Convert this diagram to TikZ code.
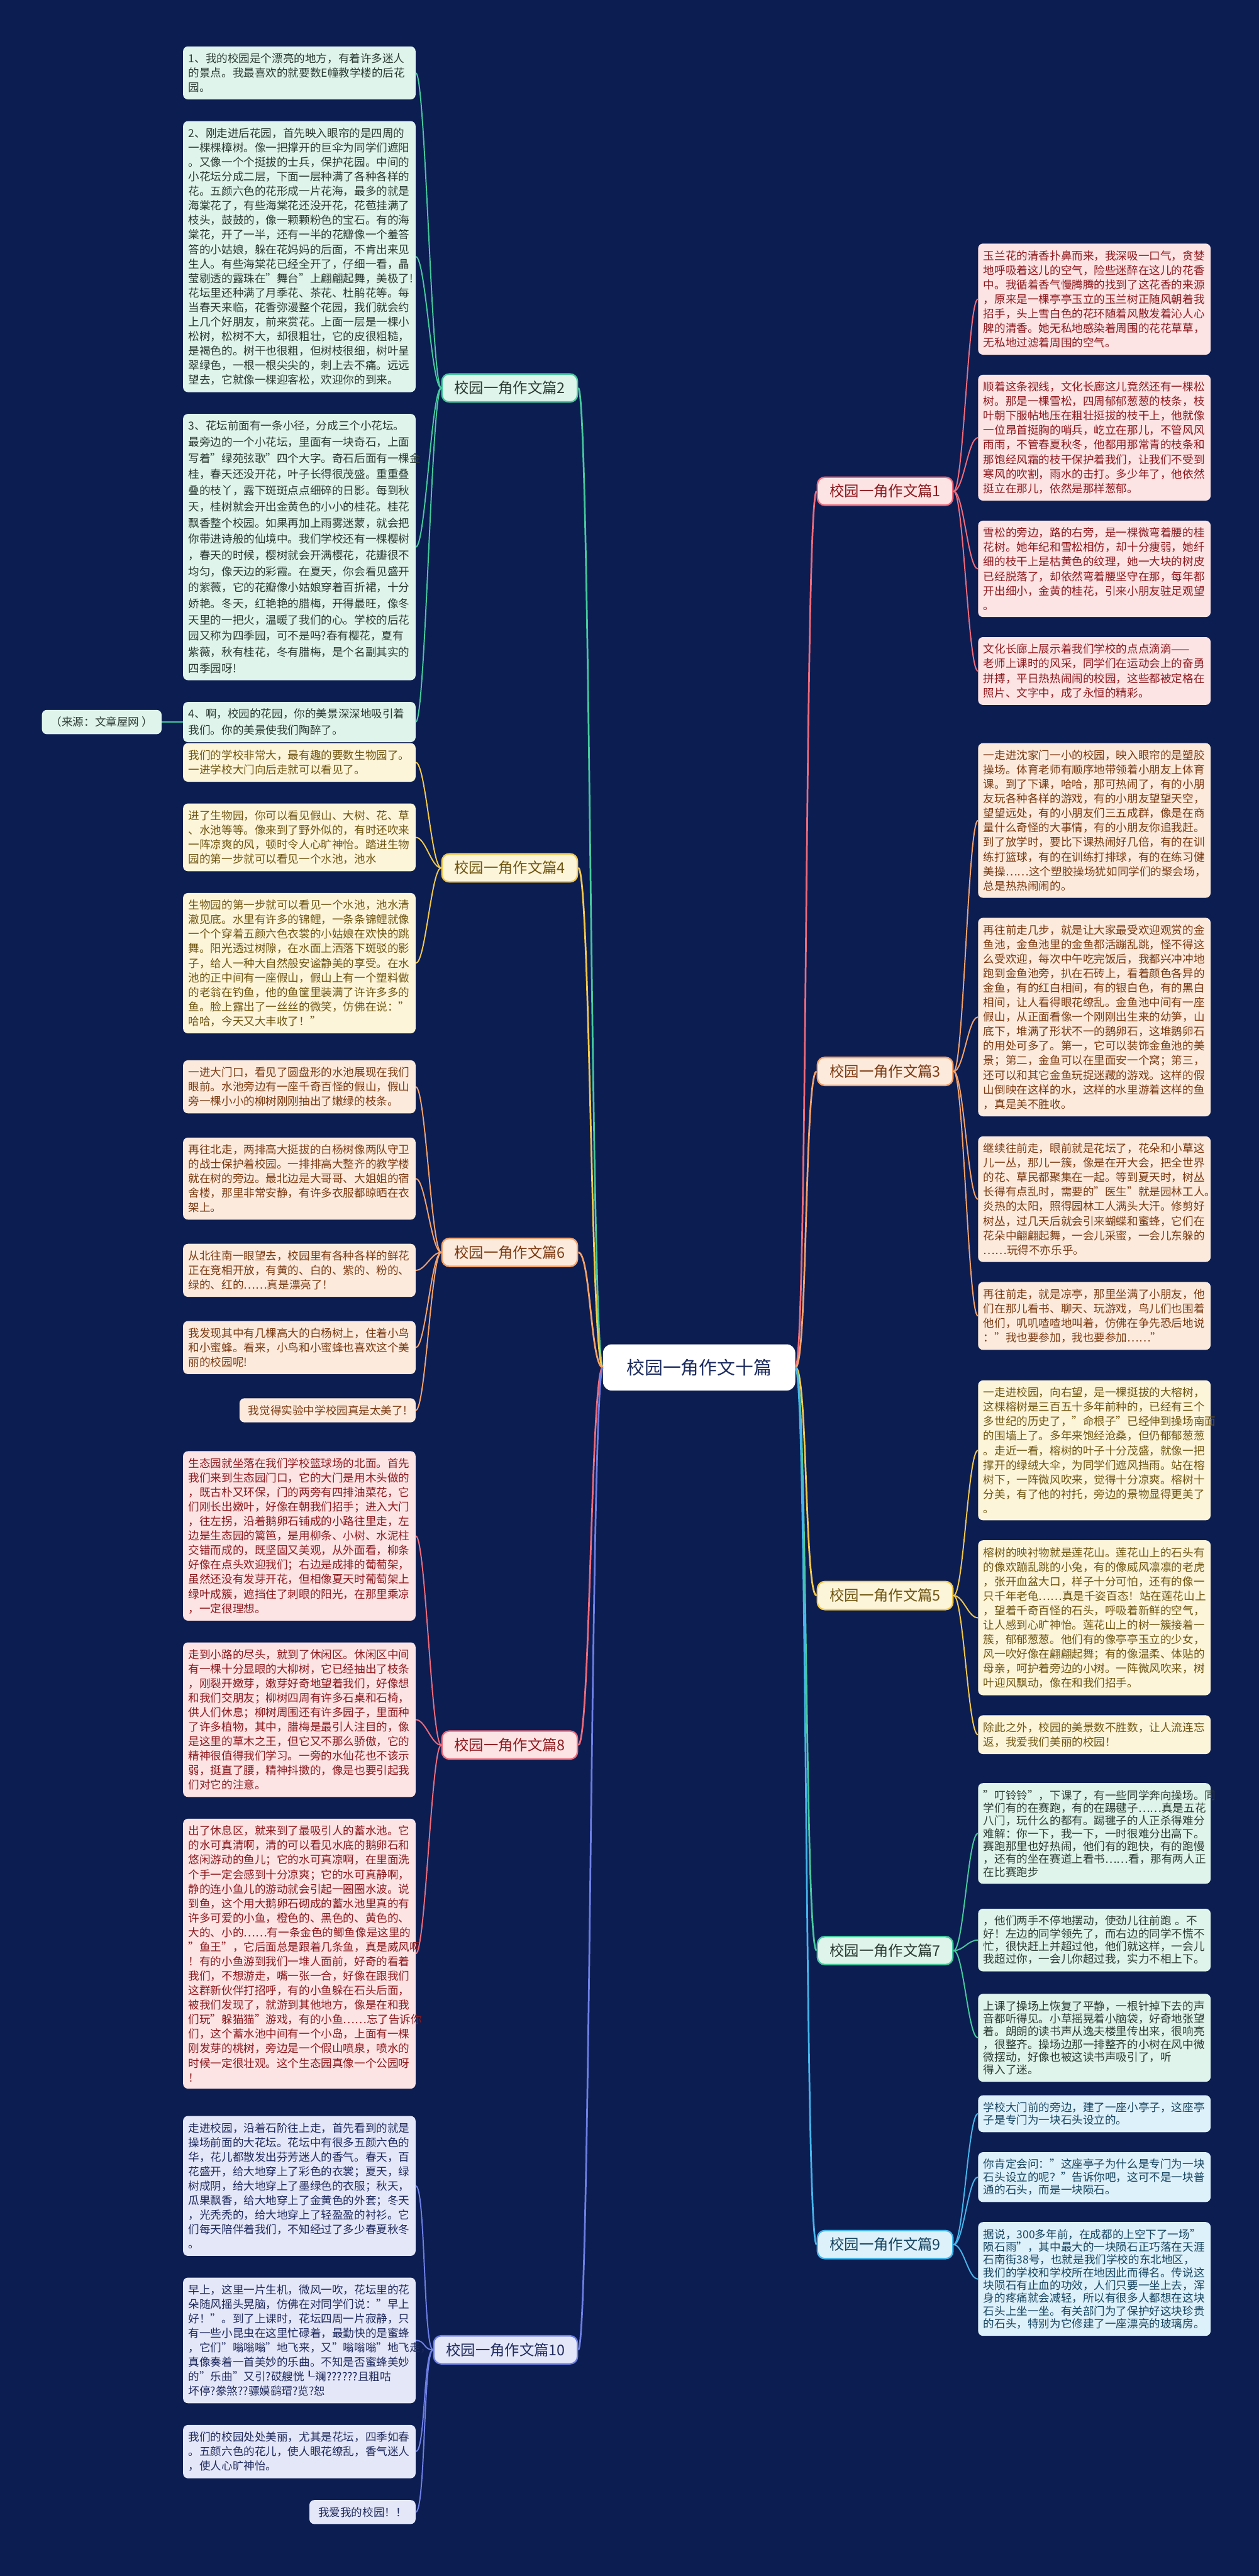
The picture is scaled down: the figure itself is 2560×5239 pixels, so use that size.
\documentclass[tikz,border=0pt]{standalone}
\usepackage{fontspec}
\setmainfont{Noto Sans CJK SC}
\usetikzlibrary{positioning}
\definecolor{bgnavy}{HTML}{0C1D52}
\definecolor{rootink}{HTML}{1C2B5E}
\definecolor{grnline}{HTML}{46C99C}
\definecolor{grnfill}{HTML}{DFF4EB}
\definecolor{grnink}{HTML}{2C3B34}
\definecolor{redline}{HTML}{EE6B7B}
\definecolor{redfill}{HTML}{FCE3E4}
\definecolor{redink}{HTML}{8C1A1E}
\definecolor{orgline}{HTML}{F4A26B}
\definecolor{orgfill}{HTML}{FCEBDD}
\definecolor{orgink}{HTML}{7B3A12}
\definecolor{ylwline}{HTML}{F3C94B}
\definecolor{ylwfill}{HTML}{FDF5D9}
\definecolor{ylwink}{HTML}{6F5512}
\definecolor{bluline}{HTML}{45B5EA}
\definecolor{blufill}{HTML}{DDF1FB}
\definecolor{bluink}{HTML}{17445F}
\definecolor{purline}{HTML}{6E7FE4}
\definecolor{purfill}{HTML}{E4E7F8}
\definecolor{purink}{HTML}{202B5E}
\tikzset{
  root/.style={
    rectangle, rounded corners=0.35cm,
    minimum width=7.82cm, minimum height=1.88cm,
    fill=white, text=rootink,
    font=\fontsize{21pt}{25pt}\selectfont,
  },
  topic/.style={
    rectangle, rounded corners=0.3cm, line width=0.06cm,
    minimum height=1.14cm, inner xsep=0.5cm,
    font=\fontsize{17pt}{20pt}\selectfont,
  },
  card/.style={
    rectangle, rounded corners=0.2cm,
    text width=9.02cm, align=left,
    inner xsep=0.22cm, inner ysep=0.28cm,
    font=\fontsize{12.8pt}{16.8pt}\selectfont, anchor=north west,
  },
  note/.style={
    rectangle, rounded corners=0.2cm,
    inner xsep=0.36cm, inner ysep=0.28cm,
    font=\fontsize{12.8pt}{16.8pt}\selectfont,
  },
  airy/.style={font=\fontsize{12.8pt}{18.7pt}\selectfont},
  tight/.style={font=\fontsize{12.8pt}{14.8pt}\selectfont},
  grncard/.style={card, fill=grnfill, text=grnink},
  redcard/.style={card, fill=redfill, text=redink},
  orgcard/.style={card, fill=orgfill, text=orgink},
  ylwcard/.style={card, fill=ylwfill, text=ylwink},
  blucard/.style={card, fill=blufill, text=bluink},
  purcard/.style={card, fill=purfill, text=purink},
  grntopic/.style={topic, draw=grnline, fill=grnfill, text=grnink},
  redtopic/.style={topic, draw=redline, fill=redfill, text=redink},
  orgtopic/.style={topic, draw=orgline, fill=orgfill, text=orgink},
  ylwtopic/.style={topic, draw=ylwline, fill=ylwfill, text=ylwink},
  blutopic/.style={topic, draw=bluline, fill=blufill, text=bluink},
  purtopic/.style={topic, draw=purline, fill=purfill, text=purink},
  link/.style={line width=0.07cm},
  twig/.style={line width=0.05cm},
}
\begin{document}
\begin{tikzpicture}[x=0.02cm, y=-0.02cm]

  \fill[bgnavy] (0,0) rectangle (2560,5239);
  \useasboundingbox (0,0) rectangle (2560,5239);

  \node[root] (hub) at (1422,2781) {校园一角作文十篇};

  % left topics
  \node[grntopic, anchor=east] (t2) at (1176,789) {校园一角作文篇2};
  \node[ylwtopic, anchor=east] (t4) at (1176,1765) {校园一角作文篇4};
  \node[orgtopic, anchor=east] (t6) at (1176,2547) {校园一角作文篇6};
  \node[redtopic, anchor=east] (t8) at (1176,3549) {校园一角作文篇8};
  \node[purtopic, anchor=east] (t10) at (1176,4779) {校园一角作文篇10};

  % right topics
  \node[redtopic, anchor=west] (t1) at (1661,999) {校园一角作文篇1};
  \node[orgtopic, anchor=west] (t3) at (1661,2179) {校园一角作文篇3};
  \node[ylwtopic, anchor=west] (t5) at (1661,3245) {校园一角作文篇5};
  \node[grntopic, anchor=west] (t7) at (1661,3967) {校园一角作文篇7};
  \node[blutopic, anchor=west] (t9) at (1661,4565) {校园一角作文篇9};

  % 篇2
  \node[grncard] (L1) at (372,94) {1、我的校园是个漂亮的地方，有着许多迷人\\的景点。我最喜欢的就要数E幢教学楼的后花\\园。};
  \node[grncard, below=0.87cm of L1] (L2) {2、刚走进后花园，首先映入眼帘的是四周的\\一棵棵樟树。像一把撑开的巨伞为同学们遮阳\\。又像一个个挺拔的士兵，保护花园。中间的\\小花坛分成二层，下面一层种满了各种各样的\\花。五颜六色的花形成一片花海，最多的就是\\海棠花了，有些海棠花还没开花，花苞挂满了\\枝头，鼓鼓的，像一颗颗粉色的宝石。有的海\\棠花，开了一半，还有一半的花瓣像一个羞答\\答的小姑娘，躲在花妈妈的后面，不肯出来见\\生人。有些海棠花已经全开了，仔细一看，晶\\莹剔透的露珠在"舞台"上翩翩起舞，美极了!\\花坛里还种满了月季花、茶花、杜鹃花等。每\\当春天来临，花香弥漫整个花园，我们就会约\\上几个好朋友，前来赏花。上面一层是一棵小\\松树，松树不大，却很粗壮，它的皮很粗糙，\\是褐色的。树干也很粗，但树枝很细，树叶呈\\翠绿色，一根一根尖尖的，刺上去不痛。远远\\望去，它就像一棵迎客松，欢迎你的到来。};
  \node[grncard, airy, below=0.87cm of L2] (L3) {3、花坛前面有一条小径，分成三个小花坛。\\最旁边的一个小花坛，里面有一块奇石，上面\\写着"绿苑弦歌"四个大字。奇石后面有一棵金\\桂，春天还没开花，叶子长得很茂盛。重重叠\\叠的枝丫，露下斑斑点点细碎的日影。每到秋\\天，桂树就会开出金黄色的小小的桂花。桂花\\飘香整个校园。如果再加上雨雾迷蒙，就会把\\你带进诗般的仙境中。我们学校还有一棵樱树\\，春天的时候，樱树就会开满樱花，花瓣很不\\均匀，像天边的彩霞。在夏天，你会看见盛开\\的紫薇，它的花瓣像小姑娘穿着百折裙，十分\\娇艳。冬天，红艳艳的腊梅，开得最旺，像冬\\天里的一把火，温暖了我们的心。学校的后花\\园又称为四季园，可不是吗?春有樱花，夏有\\紫薇，秋有桂花，冬有腊梅，是个名副其实的\\四季园呀!};
  \node[grncard, airy, below=0.87cm of L3] (L4) {4、啊，校园的花园，你的美景深深地吸引着\\我们。你的美景使我们陶醉了。};
  \node[note, fill=grnfill, text=grnink, left=0.86cm of L4] (src) {（来源：文章屋网 ）};

  % 篇4
  \node[ylwcard] (L5) at (372,1511) {我们的学校非常大，最有趣的要数生物园了。\\一进学校大门向后走就可以看见了。};
  \node[ylwcard, below=0.87cm of L5] (L6) {进了生物园，你可以看见假山、大树、花、草\\、水池等等。像来到了野外似的，有时还吹来\\一阵凉爽的风，顿时令人心旷神怡。踏进生物\\园的第一步就可以看见一个水池，池水};
  \node[ylwcard, below=0.87cm of L6] (L7) {生物园的第一步就可以看见一个水池，池水清\\澈见底。水里有许多的锦鲤，一条条锦鲤就像\\一个个穿着五颜六色衣裳的小姑娘在欢快的跳\\舞。阳光透过树隙，在水面上洒落下斑驳的影\\子，给人一种大自然般安谧静美的享受。在水\\池的正中间有一座假山，假山上有一个塑料做\\的老翁在钓鱼，他的鱼筐里装满了许许多多的\\鱼。脸上露出了一丝丝的微笑，仿佛在说："\\哈哈，今天又大丰收了！"};

  % 篇6
  \node[orgcard] (L8) at (372,2156) {一进大门口，看见了圆盘形的水池展现在我们\\眼前。水池旁边有一座千奇百怪的假山，假山\\旁一棵小小的柳树刚刚抽出了嫩绿的枝条。};
  \node[orgcard, below=0.97cm of L8] (L9) {再往北走，两排高大挺拔的白杨树像两队守卫\\的战士保护着校园。一排排高大整齐的教学楼\\就在树的旁边。最北边是大哥哥、大姐姐的宿\\舍楼，那里非常安静，有许多衣服都晾晒在衣\\架上。};
  \node[orgcard, below=0.97cm of L9] (L10) {从北往南一眼望去，校园里有各种各样的鲜花\\正在竞相开放，有黄的、白的、紫的、粉的、\\绿的、红的……真是漂亮了！};
  \node[orgcard, below=0.97cm of L10] (L11) {我发现其中有几棵高大的白杨树上，住着小鸟\\和小蜜蜂。看来，小鸟和小蜜蜂也喜欢这个美\\丽的校园呢!};
  \node[note, fill=orgfill, text=orgink, anchor=north east] (L12) at ([yshift=-0.97cm]L11.south east) {我觉得实验中学校园真是太美了!};

  % 篇8
  \node[redcard] (L13) at (372,2951) {生态园就坐落在我们学校篮球场的北面。首先\\我们来到生态园门口，它的大门是用木头做的\\，既古朴又环保，门的两旁有四排油菜花，它\\们刚长出嫩叶，好像在朝我们招手；进入大门\\，往左拐，沿着鹅卵石铺成的小路往里走，左\\边是生态园的篱笆，是用柳条、小树、水泥柱\\交错而成的，既坚固又美观，从外面看，柳条\\好像在点头欢迎我们；右边是成排的葡萄架，\\虽然还没有发芽开花，但相像夏天时葡萄架上\\绿叶成簇，遮挡住了刺眼的阳光，在那里乘凉\\，一定很理想。};
  \node[redcard, below=0.87cm of L13] (L14) {走到小路的尽头，就到了休闲区。休闲区中间\\有一棵十分显眼的大柳树，它已经抽出了枝条\\，刚裂开嫩芽，嫩芽好奇地望着我们，好像想\\和我们交朋友；柳树四周有许多石桌和石椅，\\供人们休息；柳树周围还有许多园子，里面种\\了许多植物，其中，腊梅是最引人注目的，像\\是这里的草木之王，但它又不那么骄傲，它的\\精神很值得我们学习。一旁的水仙花也不该示\\弱，挺直了腰，精神抖擞的，像是也要引起我\\们对它的注意。};
  \node[redcard, below=0.87cm of L14] (L15) {出了休息区，就来到了最吸引人的蓄水池。它\\的水可真清啊，清的可以看见水底的鹅卵石和\\悠闲游动的鱼儿；它的水可真凉啊，在里面洗\\个手一定会感到十分凉爽；它的水可真静啊，\\静的连小鱼儿的游动就会引起一圈圈水波。说\\到鱼，这个用大鹅卵石砌成的蓄水池里真的有\\许多可爱的小鱼，橙色的、黑色的、黄色的、\\大的、小的……有一条金色的鲫鱼像是这里的\\"鱼王"，它后面总是跟着几条鱼，真是威风啊\\！有的小鱼游到我们一堆人面前，好奇的看着\\我们，不想游走，嘴一张一合，好像在跟我们\\这群新伙伴打招呼，有的小鱼躲在石头后面，\\被我们发现了，就游到其他地方，像是在和我\\们玩"躲猫猫"游戏，有的小鱼……忘了告诉你\\们，这个蓄水池中间有一个小岛，上面有一棵\\刚发芽的桃树，旁边是一个假山喷泉，喷水的\\时候一定很壮观。这个生态园真像一个公园呀\\！};

  % 篇10
  \node[purcard] (L16) at (372,4303) {走进校园，沿着石阶往上走，首先看到的就是\\操场前面的大花坛。花坛中有很多五颜六色的\\华，花儿都散发出芬芳迷人的香气。春天，百\\花盛开，给大地穿上了彩色的衣裳；夏天，绿\\树成阴，给大地穿上了墨绿色的衣服；秋天，\\瓜果飘香，给大地穿上了金黄色的外套；冬天\\，光秃秃的，给大地穿上了轻盈盈的衬衫。它\\们每天陪伴着我们，不知经过了多少春夏秋冬\\。};
  \node[purcard, below=0.87cm of L16] (L17) {早上，这里一片生机，微风一吹，花坛里的花\\朵随风摇头晃脑，仿佛在对同学们说："早上\\好！"。到了上课时，花坛四周一片寂静，只\\有一些小昆虫在这里忙碌着，最勤快的是蜜蜂\\，它们"嗡嗡嗡"地飞来，又"嗡嗡嗡"地飞走，\\真像奏着一首美妙的乐曲。不知是否蜜蜂美妙\\的"乐曲"又引?砹艘恍┖斓??????且粗咕\\坏停?豢煞??骠嫫鹞瑁?览?恕};
  \node[purcard, below=0.87cm of L17] (L18) {我们的校园处处美丽，尤其是花坛，四季如春\\。五颜六色的花儿，使人眼花缭乱，香气迷人\\，使人心旷神怡。};
  \node[note, fill=purfill, text=purink, anchor=north east] (L19) at ([yshift=-0.87cm]L18.south east) {我爱我的校园！！};

  % 篇1
  \node[redcard] (R1) at (1989,495) {玉兰花的清香扑鼻而来，我深吸一口气，贪婪\\地呼吸着这儿的空气，险些迷醉在这儿的花香\\中。我循着香气慢腾腾的找到了这花香的来源\\，原来是一棵亭亭玉立的玉兰树正随风朝着我\\招手，头上雪白色的花环随着风散发着沁人心\\脾的清香。她无私地感染着周围的花花草草，\\无私地过滤着周围的空气。};
  \node[redcard, below=0.8cm of R1] (R2) {顺着这条视线，文化长廊这儿竟然还有一棵松\\树。那是一棵雪松，四周郁郁葱葱的枝条，枝\\叶朝下服帖地压在粗壮挺拔的枝干上，他就像\\一位昂首挺胸的哨兵，屹立在那儿，不管风风\\雨雨，不管春夏秋冬，他都用那常青的枝条和\\那饱经风霜的枝干保护着我们，让我们不受到\\寒风的吹割，雨水的击打。多少年了，他依然\\挺立在那儿，依然是那样葱郁。};
  \node[redcard, below=0.8cm of R2] (R3) {雪松的旁边，路的右旁，是一棵微弯着腰的桂\\花树。她年纪和雪松相仿，却十分瘦弱，她纤\\细的枝干上是枯黄色的纹理，她一大块的树皮\\已经脱落了，却依然弯着腰坚守在那，每年都\\开出细小，金黄的桂花，引来小朋友驻足观望\\。};
  \node[redcard, below=0.8cm of R3] (R4) {文化长廊上展示着我们学校的点点滴滴——\\老师上课时的风采，同学们在运动会上的奋勇\\拼搏，平日热热闹闹的校园，这些都被定格在\\照片、文字中，成了永恒的精彩。};

  % 篇3
  \node[orgcard] (R5) at (1989,1511) {一走进沈家门一小的校园，映入眼帘的是塑胶\\操场。体育老师有顺序地带领着小朋友上体育\\课。到了下课，哈哈，那可热闹了，有的小朋\\友玩各种各样的游戏，有的小朋友望望天空，\\望望远处，有的小朋友们三五成群，像是在商\\量什么奇怪的大事情，有的小朋友你追我赶。\\到了放学时，要比下课热闹好几倍，有的在训\\练打篮球，有的在训练打排球，有的在练习健\\美操……这个塑胶操场犹如同学们的聚会场，\\总是热热闹闹的。};
  \node[orgcard, below=0.8cm of R5] (R6) {再往前走几步，就是让大家最受欢迎观赏的金\\鱼池，金鱼池里的金鱼都活蹦乱跳，怪不得这\\么受欢迎，每次中午吃完饭后，我都兴冲冲地\\跑到金鱼池旁，扒在石砖上，看着颜色各异的\\金鱼，有的红白相间，有的银白色，有的黑白\\相间，让人看得眼花缭乱。金鱼池中间有一座\\假山，从正面看像一个刚刚出生来的幼笋，山\\底下，堆满了形状不一的鹅卵石，这堆鹅卵石\\的用处可多了。第一，它可以装饰金鱼池的美\\景；第二，金鱼可以在里面安一个窝；第三，\\还可以和其它金鱼玩捉迷藏的游戏。这样的假\\山倒映在这样的水，这样的水里游着这样的鱼\\，真是美不胜收。};
  \node[orgcard, below=0.8cm of R6] (R7) {继续往前走，眼前就是花坛了，花朵和小草这\\儿一丛，那儿一簇，像是在开大会，把全世界\\的花、草民都聚集在一起。等到夏天时，树丛\\长得有点乱时，需要的"医生"就是园林工人。\\炎热的太阳，照得园林工人满头大汗。修剪好\\树丛，过几天后就会引来蝴蝶和蜜蜂，它们在\\花朵中翩翩起舞，一会儿采蜜，一会儿东躲的\\……玩得不亦乐乎。};
  \node[orgcard, below=0.8cm of R7] (R8) {再往前走，就是凉亭，那里坐满了小朋友，他\\们在那儿看书、聊天、玩游戏，鸟儿们也围着\\他们，叽叽喳喳地叫着，仿佛在争先恐后地说\\："我也要参加，我也要参加……"};

  % 篇5
  \node[ylwcard] (R9) at (1989,2807) {一走进校园，向右望，是一棵挺拔的大榕树，\\这棵榕树是三百五十多年前种的，已经有三个\\多世纪的历史了，"命根子"已经伸到操场南面\\的围墙上了。多年来饱经沧桑，但仍郁郁葱葱\\。走近一看，榕树的叶子十分茂盛，就像一把\\撑开的绿绒大伞，为同学们遮风挡雨。站在榕\\树下，一阵微风吹来，觉得十分凉爽。榕树十\\分美，有了他的衬托，旁边的景物显得更美了\\。};
  \node[ylwcard, below=0.8cm of R9] (R10) {榕树的映衬物就是莲花山。莲花山上的石头有\\的像欢蹦乱跳的小兔，有的像威风凛凛的老虎\\，张开血盆大口，样子十分可怕，还有的像一\\只千年老龟……真是千姿百态！站在莲花山上\\，望着千奇百怪的石头，呼吸着新鲜的空气，\\让人感到心旷神怡。莲花山上的树一簇接着一\\簇，郁郁葱葱。他们有的像亭亭玉立的少女，\\风一吹好像在翩翩起舞；有的像温柔、体贴的\\母亲，呵护着旁边的小树。一阵微风吹来，树\\叶迎风飘动，像在和我们招手。};
  \node[ylwcard, below=0.8cm of R10] (R11) {除此之外，校园的美景数不胜数，让人流连忘\\返，我爱我们美丽的校园！};

  % 篇7
  \node[grncard, tight] (R12) at (1989,3626) {"叮铃铃"，下课了，有一些同学奔向操场。同\\学们有的在赛跑，有的在踢毽子……真是五花\\八门，玩什么的都有。踢毽子的人正杀得难分\\难解：你一下，我一下，一时很难分出高下。\\赛跑那里也好热闹，他们有的跑快，有的跑慢\\，还有的坐在赛道上看书……看，那有两人正\\在比赛跑步};
  \node[grncard, tight, below=1cm of R12] (R13) {，他们两手不停地摆动，使劲儿往前跑 。不\\好！左边的同学领先了，而右边的同学不慌不\\忙，很快赶上并超过他，他们就这样，一会儿\\我超过你，一会儿你超过我，实力不相上下。};
  \node[grncard, tight, below=0.9cm of R13] (R14) {上课了操场上恢复了平静，一根针掉下去的声\\音都听得见。小草摇晃着小脑袋，好奇地张望\\着。朗朗的读书声从逸夫楼里传出来，很响亮\\，很整齐。操场边那一排整齐的小树在风中微\\微摆动，好像也被这读书声吸引了，听\\得入了迷。};

  % 篇9
  \node[blucard, tight] (R15) at (1989,4261) {学校大门前的旁边，建了一座小亭子，这座亭\\子是专门为一块石头设立的。};
  \node[blucard, tight, below=0.8cm of R15] (R16) {你肯定会问："这座亭子为什么是专门为一块\\石头设立的呢？"告诉你吧，这可不是一块普\\通的石头，而是一块陨石。};
  \node[blucard, tight, below=0.8cm of R16] (R17) {据说，300多年前，在成都的上空下了一场"\\陨石雨"，其中最大的一块陨石正巧落在天涯\\石南街38号，也就是我们学校的东北地区，\\我们的学校和学校所在地因此而得名。传说这\\块陨石有止血的功效，人们只要一坐上去，浑\\身的疼痛就会减轻，所以有很多人都想在这块\\石头上坐一坐。有关部门为了保护好这块珍贵\\的石头，特别为它修建了一座漂亮的玻璃房。};

  % connectors
  \foreach \t/\c in {t2/grnline, t4/ylwline, t6/orgline, t8/redline, t10/purline}
    \draw[link, draw=\c] (hub.west) .. controls +(-25,0) and +(25,0) .. (\t.east);
  \foreach \t/\c in {t1/redline, t3/orgline, t5/ylwline, t7/grnline, t9/bluline}
    \draw[link, draw=\c] (hub.east) .. controls +(25,0) and +(-25,0) .. (\t.west);

  \foreach \k in {L1,L2,L3,L4}
    \draw[twig, draw=grnline] (t2.west) .. controls +(-20,0) and +(20,0) .. (\k.east);
  \draw[twig, draw=grnline] (L4.west) -- (src.east);
  \foreach \k in {L5,L6,L7}
    \draw[twig, draw=ylwline] (t4.west) .. controls +(-20,0) and +(20,0) .. (\k.east);
  \foreach \k in {L8,L9,L10,L11,L12}
    \draw[twig, draw=orgline] (t6.west) .. controls +(-20,0) and +(20,0) .. (\k.east);
  \foreach \k in {L13,L14,L15}
    \draw[twig, draw=redline] (t8.west) .. controls +(-20,0) and +(20,0) .. (\k.east);
  \foreach \k in {L16,L17,L18,L19}
    \draw[twig, draw=purline] (t10.west) .. controls +(-20,0) and +(20,0) .. (\k.east);

  \foreach \k in {R1,R2,R3,R4}
    \draw[twig, draw=redline] (t1.east) .. controls +(20,0) and +(-20,0) .. (\k.west);
  \foreach \k in {R5,R6,R7,R8}
    \draw[twig, draw=orgline] (t3.east) .. controls +(20,0) and +(-20,0) .. (\k.west);
  \foreach \k in {R9,R10,R11}
    \draw[twig, draw=ylwline] (t5.east) .. controls +(20,0) and +(-20,0) .. (\k.west);
  \foreach \k in {R12,R13,R14}
    \draw[twig, draw=grnline] (t7.east) .. controls +(20,0) and +(-20,0) .. (\k.west);
  \foreach \k in {R15,R16,R17}
    \draw[twig, draw=bluline] (t9.east) .. controls +(20,0) and +(-20,0) .. (\k.west);

\end{tikzpicture}
\end{document}
